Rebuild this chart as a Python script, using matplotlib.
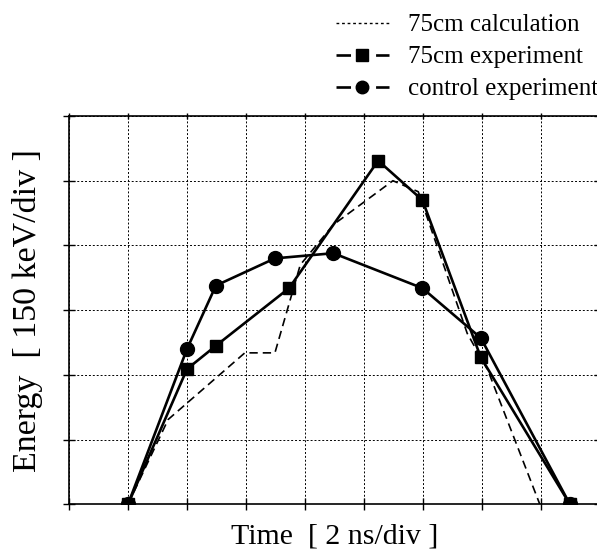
import numpy as np
import matplotlib
matplotlib.use("Agg")
import matplotlib.pyplot as plt
from matplotlib.lines import Line2D

plt.rcParams['font.family'] = ['Liberation Serif', 'DejaVu Serif']

# ---- data (divisions) ----
calc_t = [1.0, 1.68, 2.98, 3.49, 3.92, 4.48, 5.49, 5.92, 6.75, 7.1, 7.98]
calc_e = [0.0, 1.31, 2.34, 2.34, 3.70, 4.32, 5.00, 4.83, 2.64, 2.07, 0.0]

exp_t = [1.0, 2.0, 2.49, 3.73, 5.24, 5.99, 6.98, 8.49]
exp_e = [0.0, 2.09, 2.45, 3.34, 5.31, 4.70, 2.27, 0.0]

ctrl_t = [1.0, 2.0, 2.49, 3.49, 4.48, 5.99, 6.98, 8.49]
ctrl_e = [0.0, 2.40, 3.38, 3.80, 3.88, 3.34, 2.57, 0.0]

labels = ['75cm calculation', '75cm experiment', 'control experiment']

fig = plt.figure(figsize=(5.97, 5.57), dpi=100)
ax = fig.add_axes([69 / 597, 52.7 / 557, 531 / 597, 388.3 / 557])

ax.plot(calc_t, calc_e, color='black', lw=1.2, ls=(0, (5, 3)), zorder=3)
ax.plot(exp_t, exp_e, color='black', lw=1.9, marker='s', ms=8, zorder=4)
ax.plot(ctrl_t, ctrl_e, color='black', lw=1.9, marker='o', ms=10, zorder=4)

ax.set_xlim(0, 9)
ax.set_ylim(0, 6)
ax.set_xticks(np.arange(0, 10))
ax.set_yticks(np.arange(0, 7))
ax.tick_params(direction='inout', length=9, width=1.0, labelbottom=False, labelleft=False,
               right=True, top=True)
for t in ax.xaxis.get_major_ticks():
    t.tick2line.set_markersize(4.5)
ax.grid(True, color='black', lw=0.7, ls=(0, (2, 2)))
for sp in ax.spines.values():
    sp.set_linewidth(1.2)

ax.set_xlabel('Time  [ 2 ns/div ]', fontsize=21.5, labelpad=9)
ax.set_ylabel('Energy  [ 150 keV/div ]', fontsize=24.5, labelpad=14)

# legend proxies: line - marker - line with gaps
handles = [
    Line2D([], [], color='black', lw=1.0, ls=(0, (2, 2))),
    Line2D([], [], color='black', lw=1.9, marker='s', ms=8, ls=(0, (5.5, 9.5))),
    Line2D([], [], color='black', lw=1.9, marker='o', ms=9, ls=(0, (5.5, 9.5))),
]
fig.legend(handles, labels, loc='upper right', bbox_to_anchor=(1.025, 1.0),
           frameon=False, fontsize=18, handlelength=2.15, labelspacing=0.38,
           handletextpad=0.75, borderaxespad=0.15)

fig.savefig('out.png', dpi=100)
